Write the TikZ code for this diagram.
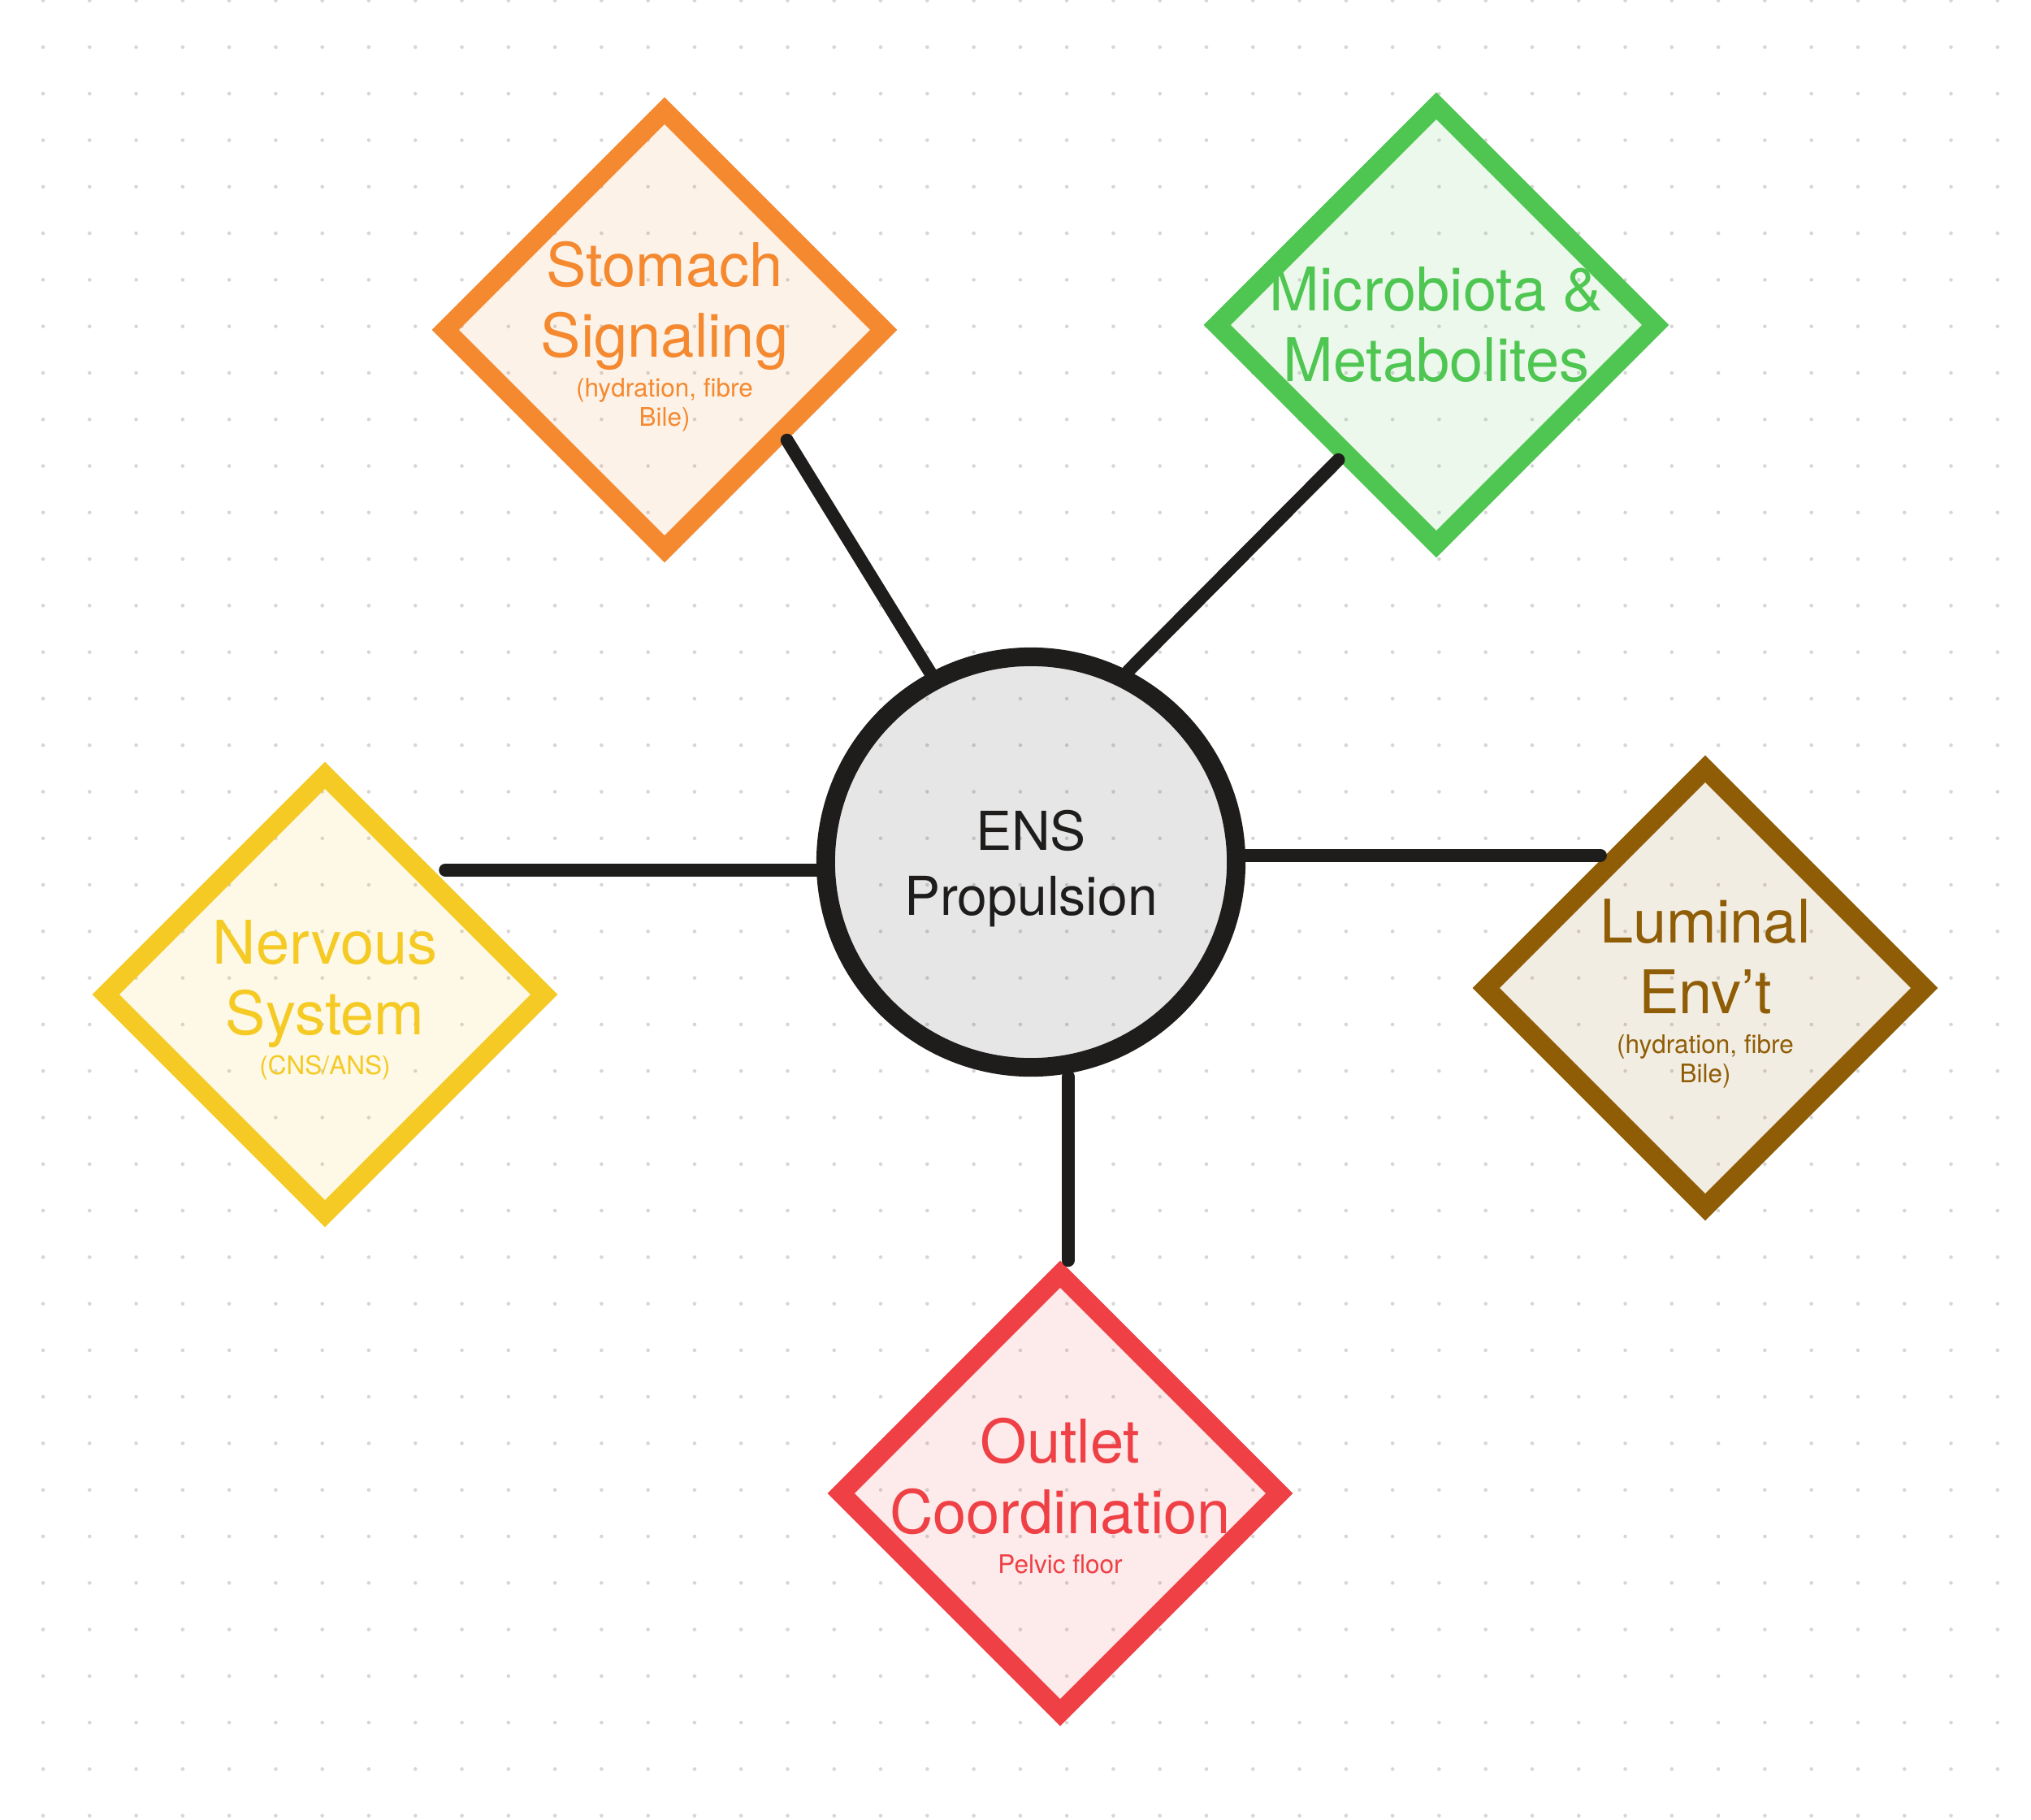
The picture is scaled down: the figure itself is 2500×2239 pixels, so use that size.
\documentclass[tikz,border=0pt]{standalone}
\usepackage{fontspec}
\setmainfont{TeX Gyre Heros}
\usetikzlibrary{shapes.geometric}

\definecolor{inkc}{RGB}{31,28,28}
\definecolor{dotc}{RGB}{214,214,214}
\definecolor{orac}{RGB}{245,137,48}
\definecolor{grnc}{RGB}{78,198,81}
\definecolor{ylwc}{RGB}{245,202,36}
\definecolor{brnc}{RGB}{143,93,6}
\definecolor{redc}{RGB}{238,64,69}
\newcommand{\subf}{\fontsize{8.96}{10.2}\selectfont}

\begin{document}
\begin{tikzpicture}[x=0.01cm,y=-0.01cm,
  diam/.style={diamond,aspect=1,inner sep=0pt,minimum width=5.49cm,minimum height=5.49cm,line width=6.69pt,fill opacity=0.11},
  hub/.style={circle,inner sep=0pt,minimum size=5.05cm,line width=6.54pt,draw=inkc,fill=inkc,fill opacity=0.11},
  lbl/.style={align=center,inner sep=0pt,font=\fontsize{21.05}{24.75}\selectfont},
  link/.style={draw=inkc,line width=4.55pt,line cap=round}]
\useasboundingbox (0,0) rectangle (2500,2239);
\fill[white] (0,0) rectangle (2500,2239);
% dotted paper
\foreach \i in {0,...,42}
  \foreach \j in {0,...,39}
    \fill[dotc] (53+57.28*\i,0.7+57.28*\j) circle (0.65pt);
% shapes
\node[hub] (ens) at (1269,1061) {};
\node[diam,draw=orac,fill=orac] (stom) at (818,406) {};
\node[diam,draw=grnc,fill=grnc] (micro) at (1768,400) {};
\node[diam,draw=ylwc,fill=ylwc] (nerv) at (400,1224) {};
\node[diam,draw=brnc,fill=brnc] (lum) at (2099,1216) {};
\node[diam,draw=redc,fill=redc] (outl) at (1305,1838) {};
% texts
\node[lbl,text=inkc,font=\fontsize{18.78}{22.76}\selectfont,yshift=-0.08cm] (ens-t) at (ens) {ENS\\Propulsion};
\node[lbl,text=orac,yshift=-0.08cm] (stom-t) at (stom) {Stomach\\Signaling\\[-0.38cm]{\subf (hydration, fibre}\\[-0.51cm]{\subf Bile)}};
\node[lbl,text=grnc] (micro-t) at (micro) {Microbiota \&\\Metabolites};
\node[lbl,text=ylwc,yshift=-0.07cm] (nerv-t) at (nerv) {Nervous\\System\\[-0.38cm]{\subf (CNS/ANS)}};
\node[lbl,text=brnc,yshift=-0.07cm] (lum-t) at (lum) {Luminal\\Env’t\\[-0.38cm]{\subf (hydration, fibre}\\[-0.51cm]{\subf Bile)}};
\node[lbl,text=redc,yshift=-0.035cm] (outl-t) at (outl) {Outlet\\Coordination\\[-0.38cm]{\subf Pelvic floor}};
% links
\draw[link] (stom.-42) -- (ens.118);
\draw[link] (micro.-126) -- (ens.63);
\draw[link,shorten <=0.15cm] (nerv.49) -- (nerv.49 -| ens.west);
\draw[link,shorten <=0.06cm] (lum.127) -- (lum.127 -| ens.east);
\draw[link,shorten <=0.1cm] (outl.88) -- (outl.88 |- ens.south);
\end{tikzpicture}
\end{document}
